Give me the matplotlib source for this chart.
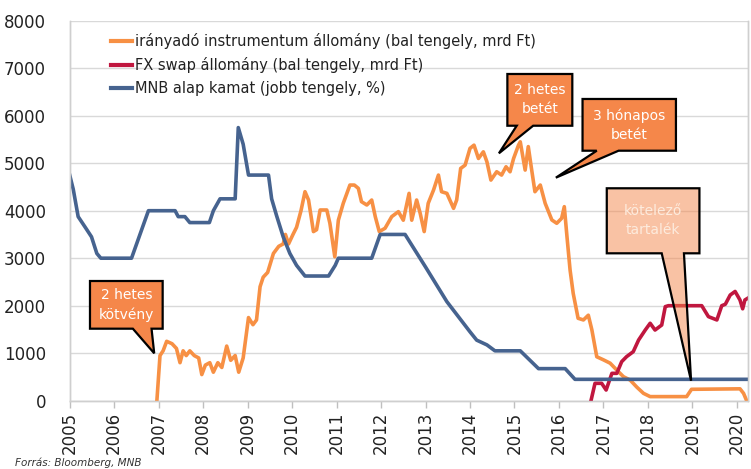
import matplotlib
matplotlib.use("Agg")
import matplotlib.pyplot as plt
from matplotlib.patches import Polygon
from matplotlib.lines import Line2D

# ---------------- data ----------------
orange_t = [2006.96, 2007.03, 2007.10, 2007.18, 2007.30, 2007.40, 2007.48, 2007.55, 2007.62, 2007.70,
            2007.80, 2007.90, 2007.97, 2008.05, 2008.15, 2008.23, 2008.33, 2008.42, 2008.53, 2008.62,
            2008.72, 2008.80, 2008.90, 2009.02, 2009.12, 2009.20, 2009.28, 2009.35, 2009.45, 2009.58,
            2009.70, 2009.80, 2009.85, 2009.92, 2010.02, 2010.10, 2010.20, 2010.29, 2010.37, 2010.48,
            2010.55, 2010.63, 2010.78, 2010.85, 2010.96, 2011.04, 2011.15, 2011.30, 2011.40, 2011.49,
            2011.56, 2011.68, 2011.79, 2011.87, 2011.96, 2012.09, 2012.24, 2012.39, 2012.50, 2012.63,
            2012.69, 2012.80, 2012.88, 2012.97, 2013.06, 2013.18, 2013.29, 2013.36, 2013.48, 2013.63,
            2013.70, 2013.79, 2013.89, 2014.00, 2014.09, 2014.19, 2014.30, 2014.38, 2014.47, 2014.60,
            2014.71, 2014.81, 2014.90, 2014.98, 2015.09, 2015.13, 2015.24, 2015.31, 2015.38, 2015.46,
            2015.58, 2015.69, 2015.84, 2015.95, 2016.06, 2016.12, 2016.18, 2016.25, 2016.32, 2016.43,
            2016.55, 2016.66, 2016.74, 2016.85, 2017.00, 2017.15, 2017.30, 2017.45, 2017.60, 2017.75,
            2017.90, 2018.05, 2018.87, 2018.98, 2020.07, 2020.15, 2020.22]
orange_v = [0, 950, 1050, 1250, 1200, 1100, 800, 1050, 950, 1050,
            950, 900, 550, 750, 800, 600, 800, 700, 1150, 850,
            950, 600, 900, 1750, 1600, 1700, 2400, 2600, 2700, 3100,
            3250, 3300, 3500, 3300, 3500, 3650, 4000, 4400, 4225, 3560,
            3600, 4015, 4015, 3735, 3030, 3800, 4155, 4540, 4540, 4470,
            4190, 4120, 4225, 3875, 3560, 3630, 3875, 3980, 3800, 4365,
            3800, 4225, 3945, 3560, 4155, 4435, 4750, 4400, 4365, 4050,
            4225, 4890, 4960, 5313, 5380, 5100, 5240, 5030, 4645, 4820,
            4750, 4925, 4820, 5100, 5380, 5450, 4855, 5350, 4900, 4400,
            4540, 4155, 3805, 3735, 3840, 4085, 3455, 2750, 2260, 1735,
            1700, 1800, 1490, 925, 860, 790, 645, 505, 435, 286,
            155, 86, 86, 240, 250, 155, 0]

red_t = [2016.72, 2016.81, 2016.96, 2017.06, 2017.19, 2017.30, 2017.41, 2017.52, 2017.67, 2017.79,
         2017.94, 2018.05, 2018.16, 2018.31, 2018.39, 2018.46, 2019.21, 2019.36, 2019.55, 2019.66,
         2019.74, 2019.85, 2019.96, 2020.07, 2020.13, 2020.18, 2020.25]
red_v = [0, 366, 366, 225, 576, 576, 822, 927, 1032, 1277,
         1488, 1630, 1488, 1593, 1980, 2000, 2000, 1770, 1700, 2000,
         2030, 2225, 2300, 2120, 1935, 2120, 2160]

rate_t = [2005.00, 2005.08, 2005.19, 2005.35, 2005.49, 2005.61, 2005.70, 2006.39, 2006.58, 2006.77,
          2007.37, 2007.44, 2007.59, 2007.70, 2008.14, 2008.23, 2008.38, 2008.72, 2008.79, 2008.90,
          2009.02, 2009.47, 2009.54, 2009.65, 2009.80, 2009.95, 2010.10, 2010.29, 2010.82, 2010.97,
          2011.04, 2011.79, 2011.98, 2012.54, 2013.00, 2013.48, 2014.00, 2014.15, 2014.38, 2014.56,
          2015.13, 2015.54, 2016.14, 2016.36, 2020.22]
rate_v = [9.5, 8.9, 7.75, 7.3, 6.9, 6.2, 6.0, 6.0, 7.0, 8.0,
          8.0, 7.75, 7.75, 7.5, 7.5, 8.0, 8.5, 8.5, 11.5, 10.8,
          9.5, 9.5, 8.5, 7.8, 6.9, 6.2, 5.7, 5.25, 5.25, 5.7,
          6.0, 6.0, 7.0, 7.0, 5.63, 4.17, 2.9, 2.55, 2.35, 2.1,
          2.1, 1.35, 1.35, 0.9, 0.9]

years = list(range(2005, 2021))
yticks_left = list(range(0, 8001, 1000))
labels = ["irányadó instrumentum állomány (bal tengely, mrd Ft)",
          "FX swap állomány (bal tengely, mrd Ft)",
          "MNB alap kamat (jobb tengely, %)"]

C_OR = "#F79044"
C_RED = "#C0173F"
C_BLUE = "#46638F"
C_BOX = "#F5874A"

# ---------------- figure ----------------
W, H = 751, 469
fig = plt.figure(figsize=(W / 100, H / 100), dpi=100)
x0p, x1p, ytop, ybot = 69.7, 748.0, 20.7, 400.7
ax = fig.add_axes([x0p / W, 1 - ybot / H, (x1p - x0p) / W, (ybot - ytop) / H])
ax2 = ax.twinx()

ax.set_xlim(2005.0, 2020.25)
ax.set_ylim(0, 8000)
ax2.set_ylim(0, 16)

ax.set_yticks(yticks_left)
ax.set_yticklabels([str(v) for v in yticks_left], fontsize=12, color="#222222")
ax.tick_params(axis="y", length=0, pad=17)
ax.set_xticks(years)
ax.set_xticklabels([str(y) for y in years], rotation=90, fontsize=12, color="#222222")
ax.tick_params(axis="x", length=5, width=1, color="#BFBFBF", pad=3)
ax2.set_yticks([])

ax.grid(axis="y", color="#D9D9D9", lw=1)
ax.set_axisbelow(True)
for a in (ax, ax2):
    a.spines["top"].set_visible(False)
    for s in ("left", "right", "bottom"):
        a.spines[s].set_color("#CFCFCF")
        a.spines[s].set_linewidth(1)

lw = 2.6
ax.plot(orange_t, orange_v, color=C_OR, lw=lw, solid_joinstyle="round", zorder=3)
ax.plot(red_t, red_v, color=C_RED, lw=lw, solid_joinstyle="round", zorder=4)
ax2.plot(rate_t, rate_v, color=C_BLUE, lw=lw, solid_joinstyle="round", zorder=2)

handles = [Line2D([], [], color=C_OR, lw=3), Line2D([], [], color=C_RED, lw=3),
           Line2D([], [], color=C_BLUE, lw=3)]
leg = ax2.legend(handles, labels, loc="upper left", bbox_to_anchor=(104 / W, 1 - 26 / H),
                 bbox_transform=fig.transFigure, frameon=False, fontsize=10.5,
                 handlelength=1.45, handletextpad=0.15, labelspacing=0.55, borderpad=0)
for t in leg.get_texts():
    t.set_color("#222222")


# ---------------- callouts ----------------
def callout(bx0, bx1, by0, by1, wb0, wb1, tip, text, alpha=1.0, tcolor="white"):
    verts = [(bx0, by1), (bx1, by1), (bx1, by0), (wb1, by0), tip, (wb0, by0), (bx0, by0)]
    face = matplotlib.colors.to_rgba(C_BOX, alpha)
    p = Polygon(verts, closed=True, facecolor=face, edgecolor="black", lw=1.6,
                joinstyle="miter", transform=ax.transData, zorder=10, clip_on=False)
    ax2.add_patch(p)
    ax2.text((bx0 + bx1) / 2, (by0 + by1) / 2, text, transform=ax.transData, ha="center",
             va="center", color=tcolor, fontsize=10, linespacing=1.45, zorder=11)


callout(2005.456, 2007.09, 1516, 2520, 2006.42, 2006.84, (2006.90, 998), "2 hetes\nkötvény")
callout(2014.84, 2016.30, 5789, 6878, 2015.05, 2015.42, (2014.65, 5208), "2 hetes\nbetét")
callout(2016.53, 2018.63, 5263, 6352, 2016.85, 2017.34, (2015.93, 4695), "3 hónapos\nbetét")
callout(2017.075, 2019.158, 3103, 4472, 2018.31, 2018.81, (2018.97, 420), "kötelező\ntartalék",
        alpha=0.5, tcolor="#FDEBDD")

fig.text(15 / W, 1 - 463 / H, "Forrás: Bloomberg, MNB", fontsize=7.5, style="italic",
         color="#333333", va="center", ha="left")

fig.savefig("out.png", dpi=100)
